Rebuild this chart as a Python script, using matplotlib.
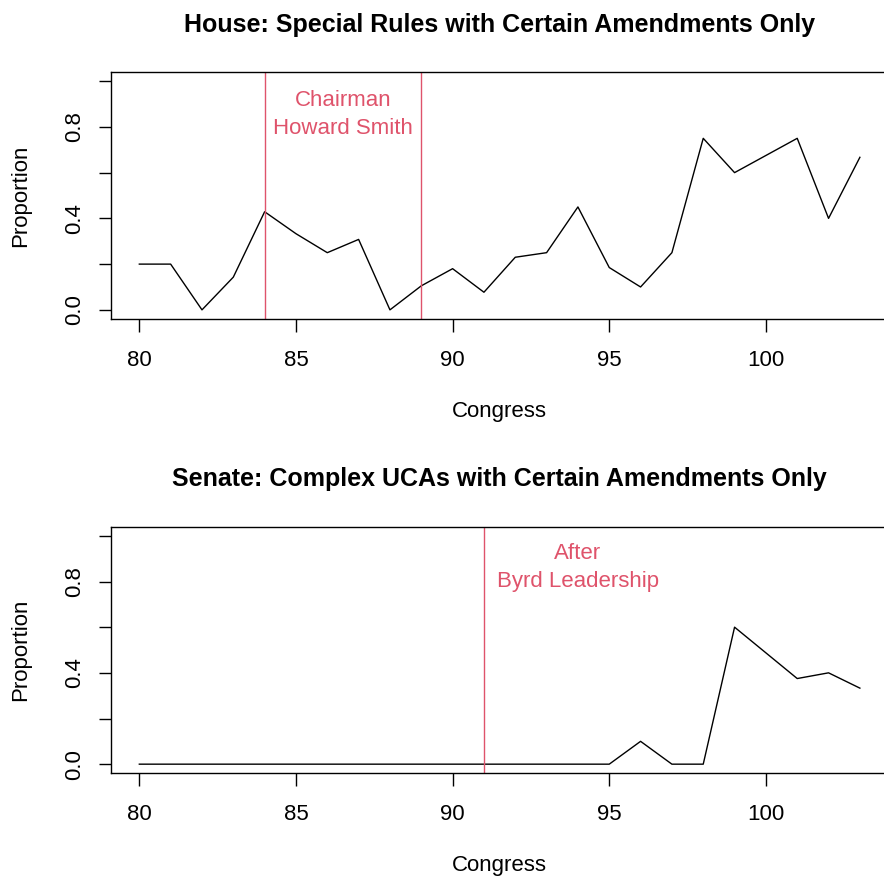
import matplotlib
matplotlib.use("Agg")
import matplotlib.pyplot as plt

plt.rcParams['font.family'] = ['Liberation Sans', 'DejaVu Sans']

congress = list(range(80, 104))
house = [0.2, 0.2, 0.0, 0.143, 0.429, 0.333, 0.25, 0.308, 0.0, 0.105, 0.18, 0.077,
         0.23, 0.25, 0.45, 0.185, 0.1, 0.25, 0.75, 0.6, 0.675, 0.75, 0.4, 0.667]
senate = [0.0] * 16 + [0.1, 0.0, 0.0, 0.6, 0.4875, 0.375, 0.4, 0.333]

house_lines = [84, 89]
senate_lines = [91]
house_note = "Chairman\nHoward Smith"
senate_note = "After\nByrd Leadership"

red = "#DF536B"
W, H = 884, 876

fig = plt.figure(figsize=(W / 100, H / 100), dpi=100)


def panel(rect, y, vlines, note, note_x, note_y, title):
    ax = fig.add_axes(rect)
    ax.plot(congress, y, color="black", lw=1.0)
    for v in vlines:
        ax.axvline(v, color=red, lw=1.0)
    ax.text(note_x, note_y, note, color=red, ha="center", va="center",
            fontsize=16, linespacing=1.45)
    ax.set_xlim(79.08, 103.92)
    ax.set_ylim(-0.04, 1.04)
    ax.set_xticks([80, 85, 90, 95, 100])
    ax.set_yticks([0, 0.2, 0.4, 0.6, 0.8, 1.0])
    ax.set_yticklabels(["0.0", "", "0.4", "", "0.8", ""], rotation=90, va="center")
    ax.tick_params(direction="out", length=9, width=1.0, labelsize=16, pad=13)
    ax.tick_params(axis="y", pad=9)
    for s in ax.spines.values():
        s.set_linewidth(1.0)
    ax.set_xlabel("Congress", fontsize=16, labelpad=22)
    ax.set_ylabel("Proportion", fontsize=16, labelpad=24)
    ax.set_title(title, fontsize=18, fontweight="bold", pad=29)
    return ax


panel([110.5 / W, 1 - 319 / H, 778.2 / W, 247 / H], house, house_lines,
      house_note, 86.5, 0.855,
      "House: Special Rules with Certain Amendments Only")
panel([110.5 / W, 1 - 773.3 / H, 778.2 / W, 246.6 / H], senate, senate_lines,
      senate_note, 94, 0.86,
      "Senate: Complex UCAs with Certain Amendments Only")

fig.savefig("out.png", dpi=100)
